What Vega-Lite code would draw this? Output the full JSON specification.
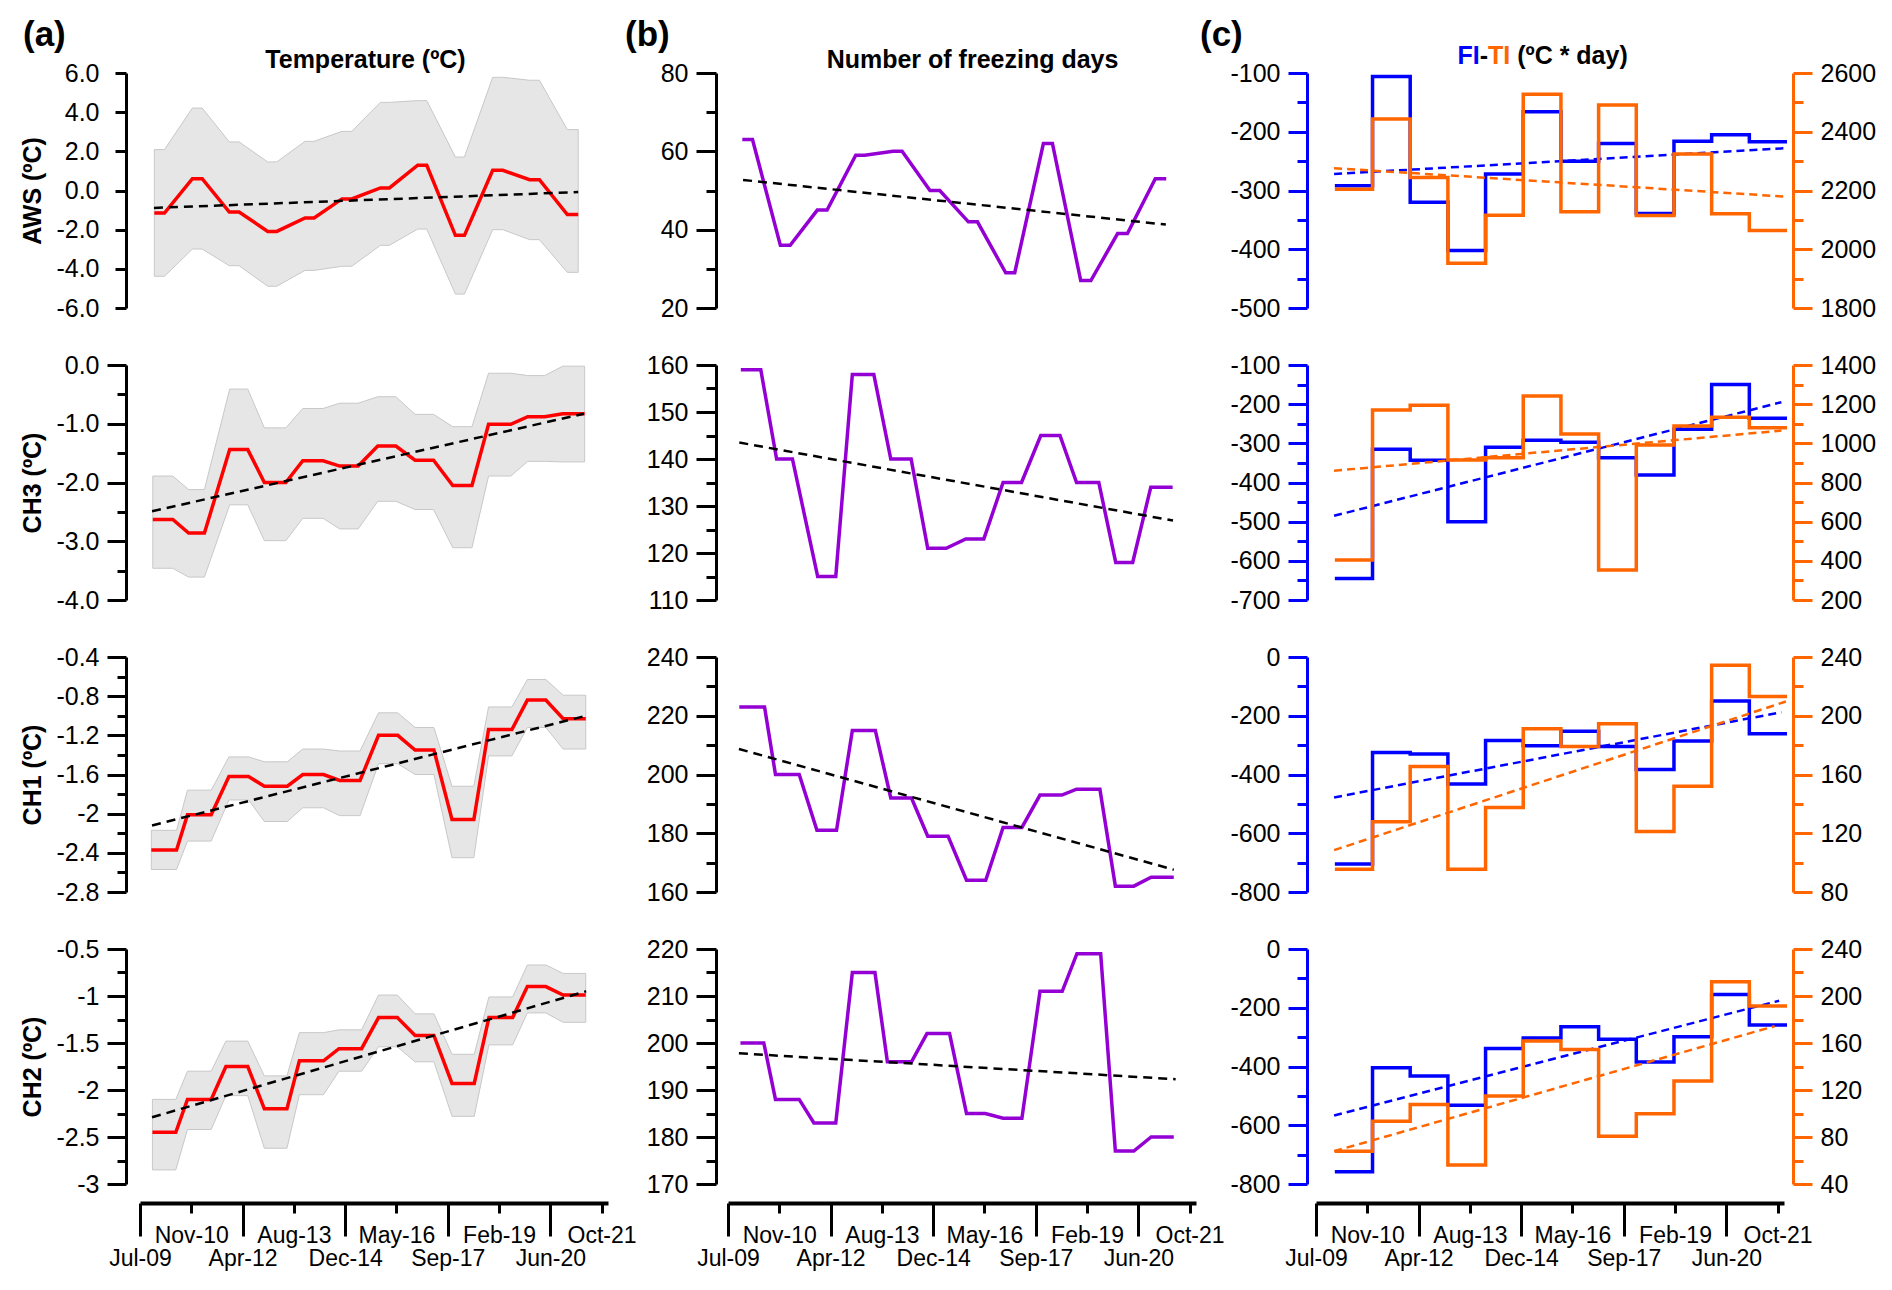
{
"$schema":"https://vega.github.io/schema/vega-lite/v6.json",
"padding":{"left":20,"top":18,"right":10,"bottom":10},
"background":"white",
"config":{"view":{"stroke":null},
 "axis":{"domainColor":"#000","domainWidth":3,"tickColor":"#000","tickWidth":3,"tickSize":19,"tickCount":100,"labelFont":"Liberation Sans","labelFontSize":25,"labelColor":"#000","labelPadding":8,"titleFont":"Liberation Sans","titleFontSize":25,"titleFontWeight":"bold","titleColor":"#000","titlePadding":10,"grid":false,"labelOverlap":false,"labelBound":false,"labelFlush":false},
 "title":{"font":"Liberation Sans","fontSize":35,"fontWeight":"bold","color":"#000","anchor":"start","frame":"group","offset":0}},
"datasets":{
"ann":[
{"s":"AWS","t":2009.88,"m":-1.15,"lo":-4.38,"hi":2.09,"fd":63},{"s":"AWS","t":2010.15,"m":-1.15,"lo":-4.38,"hi":2.09,"fd":63},
{"s":"AWS","t":2010.89,"m":0.6,"lo":-2.99,"hi":4.21,"fd":36},{"s":"AWS","t":2011.15,"m":0.6,"lo":-2.99,"hi":4.21,"fd":36},
{"s":"AWS","t":2011.87,"m":-1.1,"lo":-3.84,"hi":2.48,"fd":45},{"s":"AWS","t":2012.13,"m":-1.1,"lo":-3.84,"hi":2.48,"fd":45},
{"s":"AWS","t":2012.89,"m":-2.09,"lo":-4.89,"hi":1.46,"fd":59},{"s":"AWS","t":2013.13,"m":-2.09,"lo":-4.89,"hi":1.46,"fd":59},
{"s":"AWS","t":2013.88,"m":-1.4,"lo":-4.08,"hi":2.51,"fd":60},{"s":"AWS","t":2014.12,"m":-1.4,"lo":-4.08,"hi":2.51,"fd":60},
{"s":"AWS","t":2014.86,"m":-0.43,"lo":-3.87,"hi":3.02,"fd":50},{"s":"AWS","t":2015.12,"m":-0.43,"lo":-3.87,"hi":3.02,"fd":50},
{"s":"AWS","t":2015.88,"m":0.13,"lo":-2.8,"hi":4.5,"fd":42},{"s":"AWS","t":2016.12,"m":0.13,"lo":-2.8,"hi":4.5,"fd":42},
{"s":"AWS","t":2016.87,"m":1.29,"lo":-1.97,"hi":4.59,"fd":29},{"s":"AWS","t":2017.11,"m":1.29,"lo":-1.97,"hi":4.59,"fd":29},
{"s":"AWS","t":2017.87,"m":-2.29,"lo":-5.29,"hi":1.71,"fd":62},{"s":"AWS","t":2018.11,"m":-2.29,"lo":-5.29,"hi":1.71,"fd":62},
{"s":"AWS","t":2018.86,"m":1.03,"lo":-2.0,"hi":5.78,"fd":27},{"s":"AWS","t":2019.13,"m":1.03,"lo":-2.0,"hi":5.78,"fd":27},
{"s":"AWS","t":2019.84,"m":0.55,"lo":-2.51,"hi":5.63,"fd":39},{"s":"AWS","t":2020.1,"m":0.55,"lo":-2.51,"hi":5.63,"fd":39},
{"s":"AWS","t":2020.84,"m":-1.23,"lo":-4.18,"hi":3.11,"fd":53},{"s":"AWS","t":2021.13,"m":-1.23,"lo":-4.18,"hi":3.11,"fd":53},
{"s":"CH3","t":2009.84,"m":-2.63,"lo":-3.46,"hi":-1.89,"fd":159},{"s":"CH3","t":2010.37,"m":-2.63,"lo":-3.46,"hi":-1.89,"fd":159},
{"s":"CH3","t":2010.79,"m":-2.86,"lo":-3.61,"hi":-2.12,"fd":140},{"s":"CH3","t":2011.21,"m":-2.86,"lo":-3.61,"hi":-2.12,"fd":140},
{"s":"CH3","t":2011.88,"m":-1.44,"lo":-2.38,"hi":-0.41,"fd":115},{"s":"CH3","t":2012.36,"m":-1.44,"lo":-2.38,"hi":-0.41,"fd":115},
{"s":"CH3","t":2012.8,"m":-2.0,"lo":-2.99,"hi":-1.07,"fd":158},{"s":"CH3","t":2013.37,"m":-2.0,"lo":-2.99,"hi":-1.07,"fd":158},
{"s":"CH3","t":2013.82,"m":-1.63,"lo":-2.61,"hi":-0.74,"fd":140},{"s":"CH3","t":2014.36,"m":-1.63,"lo":-2.61,"hi":-0.74,"fd":140},
{"s":"CH3","t":2014.8,"m":-1.72,"lo":-2.79,"hi":-0.65,"fd":121},{"s":"CH3","t":2015.29,"m":-1.72,"lo":-2.79,"hi":-0.65,"fd":121},
{"s":"CH3","t":2015.81,"m":-1.38,"lo":-2.32,"hi":-0.54,"fd":123},{"s":"CH3","t":2016.29,"m":-1.38,"lo":-2.32,"hi":-0.54,"fd":123},
{"s":"CH3","t":2016.8,"m":-1.62,"lo":-2.46,"hi":-0.84,"fd":135},{"s":"CH3","t":2017.29,"m":-1.62,"lo":-2.46,"hi":-0.84,"fd":135},
{"s":"CH3","t":2017.8,"m":-2.05,"lo":-3.11,"hi":-1.05,"fd":145},{"s":"CH3","t":2018.31,"m":-2.05,"lo":-3.11,"hi":-1.05,"fd":145},
{"s":"CH3","t":2018.75,"m":-1.01,"lo":-1.89,"hi":-0.14,"fd":135},{"s":"CH3","t":2019.34,"m":-1.01,"lo":-1.89,"hi":-0.14,"fd":135},
{"s":"CH3","t":2019.79,"m":-0.88,"lo":-1.64,"hi":-0.18,"fd":118},{"s":"CH3","t":2020.24,"m":-0.88,"lo":-1.64,"hi":-0.18,"fd":118},
{"s":"CH3","t":2020.72,"m":-0.83,"lo":-1.65,"hi":-0.02,"fd":134},{"s":"CH3","t":2021.3,"m":-0.83,"lo":-1.65,"hi":-0.02,"fd":134},
{"s":"CH1","t":2009.8,"m":-2.37,"lo":-2.57,"hi":-2.17,"fd":223},{"s":"CH1","t":2010.47,"m":-2.37,"lo":-2.57,"hi":-2.17,"fd":223},
{"s":"CH1","t":2010.76,"m":-2.01,"lo":-2.28,"hi":-1.76,"fd":200},{"s":"CH1","t":2011.39,"m":-2.01,"lo":-2.28,"hi":-1.76,"fd":200},
{"s":"CH1","t":2011.86,"m":-1.62,"lo":-1.86,"hi":-1.42,"fd":181},{"s":"CH1","t":2012.38,"m":-1.62,"lo":-1.86,"hi":-1.42,"fd":181},
{"s":"CH1","t":2012.8,"m":-1.72,"lo":-2.08,"hi":-1.47,"fd":215},{"s":"CH1","t":2013.41,"m":-1.72,"lo":-2.08,"hi":-1.47,"fd":215},
{"s":"CH1","t":2013.82,"m":-1.6,"lo":-1.94,"hi":-1.34,"fd":192},{"s":"CH1","t":2014.37,"m":-1.6,"lo":-1.94,"hi":-1.34,"fd":192},
{"s":"CH1","t":2014.8,"m":-1.66,"lo":-2.02,"hi":-1.36,"fd":179},{"s":"CH1","t":2015.34,"m":-1.66,"lo":-2.02,"hi":-1.36,"fd":179},
{"s":"CH1","t":2015.83,"m":-1.2,"lo":-1.49,"hi":-0.97,"fd":164},{"s":"CH1","t":2016.34,"m":-1.2,"lo":-1.49,"hi":-0.97,"fd":164},
{"s":"CH1","t":2016.8,"m":-1.35,"lo":-1.6,"hi":-1.12,"fd":182},{"s":"CH1","t":2017.3,"m":-1.35,"lo":-1.6,"hi":-1.12,"fd":182},
{"s":"CH1","t":2017.78,"m":-2.06,"lo":-2.45,"hi":-1.72,"fd":193},{"s":"CH1","t":2018.36,"m":-2.06,"lo":-2.45,"hi":-1.72,"fd":193},
{"s":"CH1","t":2018.75,"m":-1.14,"lo":-1.41,"hi":-0.91,"fd":195},{"s":"CH1","t":2019.37,"m":-1.14,"lo":-1.41,"hi":-0.91,"fd":195},
{"s":"CH1","t":2019.78,"m":-0.84,"lo":-1.12,"hi":-0.63,"fd":162},{"s":"CH1","t":2020.27,"m":-0.84,"lo":-1.12,"hi":-0.63,"fd":162},
{"s":"CH1","t":2020.73,"m":-1.03,"lo":-1.34,"hi":-0.79,"fd":165},{"s":"CH1","t":2021.33,"m":-1.03,"lo":-1.34,"hi":-0.79,"fd":165},
{"s":"CH2","t":2009.83,"m":-2.45,"lo":-2.85,"hi":-2.1,"fd":200},{"s":"CH2","t":2010.45,"m":-2.45,"lo":-2.85,"hi":-2.1,"fd":200},
{"s":"CH2","t":2010.76,"m":-2.1,"lo":-2.42,"hi":-1.8,"fd":188},{"s":"CH2","t":2011.39,"m":-2.1,"lo":-2.42,"hi":-1.8,"fd":188},
{"s":"CH2","t":2011.78,"m":-1.75,"lo":-2.06,"hi":-1.48,"fd":183},{"s":"CH2","t":2012.36,"m":-1.75,"lo":-2.06,"hi":-1.48,"fd":183},
{"s":"CH2","t":2012.8,"m":-2.2,"lo":-2.62,"hi":-1.85,"fd":215},{"s":"CH2","t":2013.4,"m":-2.2,"lo":-2.62,"hi":-1.85,"fd":215},
{"s":"CH2","t":2013.73,"m":-1.69,"lo":-2.05,"hi":-1.39,"fd":196},{"s":"CH2","t":2014.37,"m":-1.69,"lo":-2.05,"hi":-1.39,"fd":196},
{"s":"CH2","t":2014.78,"m":-1.56,"lo":-1.8,"hi":-1.36,"fd":202},{"s":"CH2","t":2015.38,"m":-1.56,"lo":-1.8,"hi":-1.36,"fd":202},
{"s":"CH2","t":2015.83,"m":-1.23,"lo":-1.54,"hi":-0.99,"fd":185},{"s":"CH2","t":2016.33,"m":-1.23,"lo":-1.54,"hi":-0.99,"fd":185},
{"s":"CH2","t":2016.8,"m":-1.42,"lo":-1.7,"hi":-1.19,"fd":184},{"s":"CH2","t":2017.3,"m":-1.42,"lo":-1.7,"hi":-1.19,"fd":184},
{"s":"CH2","t":2017.78,"m":-1.93,"lo":-2.28,"hi":-1.62,"fd":211},{"s":"CH2","t":2018.37,"m":-1.93,"lo":-2.28,"hi":-1.62,"fd":211},
{"s":"CH2","t":2018.76,"m":-1.23,"lo":-1.52,"hi":-1.01,"fd":219},{"s":"CH2","t":2019.39,"m":-1.23,"lo":-1.52,"hi":-1.01,"fd":219},
{"s":"CH2","t":2019.78,"m":-0.9,"lo":-1.18,"hi":-0.67,"fd":177},{"s":"CH2","t":2020.27,"m":-0.9,"lo":-1.18,"hi":-0.67,"fd":177},
{"s":"CH2","t":2020.73,"m":-0.99,"lo":-1.28,"hi":-0.76,"fd":180},{"s":"CH2","t":2021.33,"m":-0.99,"lo":-1.28,"hi":-0.76,"fd":180}
],
"fiti":[
{"s":"AWS","t":2010,"FI":-292,"TI":2204},{"s":"AWS","t":2011,"FI":-106,"TI":2443},{"s":"AWS","t":2012,"FI":-320,"TI":2244},{"s":"AWS","t":2013,"FI":-402,"TI":1952},{"s":"AWS","t":2014,"FI":-272,"TI":2116},{"s":"AWS","t":2015,"FI":-166,"TI":2528},{"s":"AWS","t":2016,"FI":-250,"TI":2128},{"s":"AWS","t":2017,"FI":-220,"TI":2491},{"s":"AWS","t":2018,"FI":-339,"TI":2115},{"s":"AWS","t":2019,"FI":-216,"TI":2324},{"s":"AWS","t":2020,"FI":-205,"TI":2121},{"s":"AWS","t":2021,"FI":-217,"TI":2064},{"s":"AWS","t":2022,"FI":-217,"TI":2064},
{"s":"CH3","t":2010,"FI":-645,"TI":404},{"s":"CH3","t":2011,"FI":-315,"TI":1170},{"s":"CH3","t":2012,"FI":-343,"TI":1194},{"s":"CH3","t":2013,"FI":-500,"TI":915},{"s":"CH3","t":2014,"FI":-310,"TI":927},{"s":"CH3","t":2015,"FI":-292,"TI":1242},{"s":"CH3","t":2016,"FI":-297,"TI":1048},{"s":"CH3","t":2017,"FI":-337,"TI":353},{"s":"CH3","t":2018,"FI":-381,"TI":991},{"s":"CH3","t":2019,"FI":-264,"TI":1088},{"s":"CH3","t":2020,"FI":-150,"TI":1133},{"s":"CH3","t":2021,"FI":-236,"TI":1080},{"s":"CH3","t":2022,"FI":-236,"TI":1080},
{"s":"CH1","t":2010,"FI":-705,"TI":95.5},{"s":"CH1","t":2011,"FI":-325,"TI":127.8},{"s":"CH1","t":2012,"FI":-330,"TI":165.4},{"s":"CH1","t":2013,"FI":-432,"TI":95.5},{"s":"CH1","t":2014,"FI":-284,"TI":137.6},{"s":"CH1","t":2015,"FI":-302,"TI":191.1},{"s":"CH1","t":2016,"FI":-253,"TI":179},{"s":"CH1","t":2017,"FI":-305,"TI":194.5},{"s":"CH1","t":2018,"FI":-383,"TI":121.2},{"s":"CH1","t":2019,"FI":-286,"TI":152},{"s":"CH1","t":2020,"FI":-150,"TI":234.3},{"s":"CH1","t":2021,"FI":-261,"TI":213.1},{"s":"CH1","t":2022,"FI":-261,"TI":213.1},
{"s":"CH2","t":2010,"FI":-758,"TI":67.9},{"s":"CH2","t":2011,"FI":-404,"TI":93.5},{"s":"CH2","t":2012,"FI":-432,"TI":107.7},{"s":"CH2","t":2013,"FI":-532,"TI":56.2},{"s":"CH2","t":2014,"FI":-339,"TI":114.8},{"s":"CH2","t":2015,"FI":-303,"TI":161.8},{"s":"CH2","t":2016,"FI":-265,"TI":154.4},{"s":"CH2","t":2017,"FI":-307,"TI":80.7},{"s":"CH2","t":2018,"FI":-385,"TI":99.7},{"s":"CH2","t":2019,"FI":-299,"TI":127.6},{"s":"CH2","t":2020,"FI":-155,"TI":212.1},{"s":"CH2","t":2021,"FI":-259,"TI":191.4},{"s":"CH2","t":2022,"FI":-259,"TI":191.4}
],
"trend":[
{"s":"AWS","k":"T","t":2009.87,"v":-0.89},{"s":"AWS","k":"T","t":2021.13,"v":-0.08},
{"s":"CH3","k":"T","t":2009.82,"v":-2.49},{"s":"CH3","k":"T","t":2021.28,"v":-0.83},
{"s":"CH1","k":"T","t":2009.82,"v":-2.12},{"s":"CH1","k":"T","t":2021.34,"v":-1.0},
{"s":"CH2","k":"T","t":2009.82,"v":-2.29},{"s":"CH2","k":"T","t":2021.34,"v":-0.95},
{"s":"AWS","k":"D","t":2009.9,"v":52.7},{"s":"AWS","k":"D","t":2021.12,"v":41.3},
{"s":"CH3","k":"D","t":2009.8,"v":143.5},{"s":"CH3","k":"D","t":2021.31,"v":126.9},
{"s":"CH1","k":"D","t":2009.79,"v":208.7},{"s":"CH1","k":"D","t":2021.33,"v":167.6},
{"s":"CH2","k":"D","t":2009.79,"v":197.8},{"s":"CH2","k":"D","t":2021.38,"v":192.3},
{"s":"AWS","k":"FI","t":2009.98,"v":-272},{"s":"AWS","k":"FI","t":2021.97,"v":-228},
{"s":"AWS","k":"TI","t":2009.98,"v":2276},{"s":"AWS","k":"TI","t":2021.97,"v":2179},
{"s":"CH3","k":"FI","t":2009.98,"v":-485},{"s":"CH3","k":"FI","t":2021.85,"v":-195},
{"s":"CH3","k":"TI","t":2009.98,"v":860},{"s":"CH3","k":"TI","t":2021.85,"v":1065},
{"s":"CH1","k":"FI","t":2009.98,"v":-478},{"s":"CH1","k":"FI","t":2021.85,"v":-188},
{"s":"CH1","k":"TI","t":2009.98,"v":108.5},{"s":"CH1","k":"TI","t":2021.97,"v":209.7},
{"s":"CH2","k":"FI","t":2009.98,"v":-567},{"s":"CH2","k":"FI","t":2021.79,"v":-176},
{"s":"CH2","k":"TI","t":2009.98,"v":67.9},{"s":"CH2","k":"TI","t":2021.67,"v":174.3}
]
},
"columns":3,
"bounds":"flush",
"spacing":{"row":57,"column":120},
"concat":[
{"width":468,"height":235,
 "title":{"text":"(a)","dx":-117,"dy":10},
 "encoding":{"x":{"field":"t","type":"quantitative","scale":{"domain":[2009.5,2021.92],"nice":false,"zero":false},"axis":{"orient":"top","domain":false,"ticks":false,"labels":false,"title":"Temperature (ºC)","titleX":225,"titleY":-6,"titleAlign":"center","titleBaseline":"alphabetic","titleAngle":0}}},
 "layer":[
  {"data":{"name":"ann"},"transform":[{"filter":"datum.s=='AWS'"}],"mark":{"type":"area","fill":"#e6e6e6","stroke":"#c8c8c8","strokeWidth":1},"encoding":{"y":{"field":"lo","type":"quantitative","title":"AWS (ºC)","scale":{"domain":[-6,6],"nice":false,"zero":false},"axis":{"offset":14,"tickCount":100,"values":[-6,-4,-2,0,2,4,6],"tickSize":11,"labelPadding":16,"labelExpr":"(datum.value<0?'-':'')+format(abs(datum.value),'.1f')"}},"y2":{"field":"hi"}}},
  {"data":{"name":"ann"},"transform":[{"filter":"datum.s=='AWS'"}],"mark":{"type":"line","color":"#ff0000","strokeWidth":3.5},"encoding":{"y":{"field":"m","type":"quantitative","title":"AWS (ºC)"}}},
  {"data":{"name":"trend"},"transform":[{"filter":"datum.s=='AWS' && datum.k=='T'"}],"mark":{"type":"line","color":"#000","strokeWidth":2.5,"strokeDash":[9,6]},"encoding":{"y":{"field":"v","type":"quantitative","title":"AWS (ºC)"}}}
 ]},
{"width":468,"height":235,
 "title":{"text":"(b)","dx":-103,"dy":10},
 "encoding":{"x":{"field":"t","type":"quantitative","scale":{"domain":[2009.5,2021.92],"nice":false,"zero":false},"axis":{"orient":"top","domain":false,"ticks":false,"labels":false,"title":"Number of freezing days","titleX":244,"titleY":-6,"titleAlign":"center","titleBaseline":"alphabetic","titleAngle":0}}},
 "layer":[
  {"data":{"name":"ann"},"transform":[{"filter":"datum.s=='AWS'"}],"mark":{"type":"line","color":"#9400d3","strokeWidth":3.5},"encoding":{"y":{"field":"fd","type":"quantitative","title":null,"scale":{"domain":[20,80],"nice":false,"zero":false},"axis":{"offset":12,"tickCount":100,"values":[20,30,40,50,60,70,80],"tickSize":{"condition":{"test":"datum.value%20!=0","value":10},"value":20},"labelExpr":"datum.value%20!=0?'':''+datum.value"}}}},
  {"data":{"name":"trend"},"transform":[{"filter":"datum.s=='AWS' && datum.k=='D'"}],"mark":{"type":"line","color":"#000","strokeWidth":2.5,"strokeDash":[9,6]},"encoding":{"y":{"field":"v","type":"quantitative","title":null}}}
 ]},
{"width":468,"height":235,
 "title":{"text":"(c)","dx":-116,"dy":14},
 "encoding":{"x":{"field":"t","type":"quantitative","scale":{"domain":[2009.5,2021.92],"nice":false,"zero":false},"axis":null}},
 "layer":[
  {"data":{"name":"fiti"},"transform":[{"filter":"datum.s=='AWS'"}],"mark":{"type":"line","interpolate":"step-after","color":"#0000ff","strokeWidth":3.5},"encoding":{"y":{"field":"FI","type":"quantitative","title":"FI","scale":{"domain":[-500,-100],"nice":false,"zero":false},"axis":{"orient":"left","offset":9,"tickCount":100,"values":[-500,-450,-400,-350,-300,-250,-200,-150,-100],"domainColor":"#0000ff","tickColor":"#0000ff","tickSize":{"condition":{"test":"datum.value%100!=0","value":10},"value":19},"labelExpr":"datum.value%100!=0?'':(datum.value<0?'-':'')+abs(datum.value)","titleColor":"#0000ff","titleAngle":0,"titleAlign":"left","titleBaseline":"alphabetic","titleX":150,"titleY":-10}}}},
  {"data":{"name":"trend"},"transform":[{"filter":"datum.s=='AWS' && datum.k=='FI'"}],"mark":{"type":"line","color":"#0000ff","strokeWidth":2.5,"strokeDash":[8,5]},"encoding":{"y":{"field":"v","type":"quantitative","title":"-","scale":{"domain":[-500,-100],"nice":false,"zero":false},"axis":{"orient":"left","offset":0,"domain":false,"ticks":false,"labels":false,"titleAngle":0,"titleAlign":"left","titleBaseline":"alphabetic","titleX":163.2,"titleY":-10}}}},
  {"data":{"name":"fiti"},"transform":[{"filter":"datum.s=='AWS'"}],"mark":{"type":"line","interpolate":"step-after","color":"#ff6600","strokeWidth":3.5},"encoding":{"y":{"field":"TI","type":"quantitative","title":"TI","scale":{"domain":[1800,2600],"nice":false,"zero":false},"axis":{"orient":"right","offset":9,"tickCount":100,"values":[1800,1900,2000,2100,2200,2300,2400,2500,2600],"domainColor":"#ff6600","tickColor":"#ff6600","tickSize":{"condition":{"test":"datum.value%200!=0","value":10},"value":19},"labelExpr":"datum.value%200!=0?'':''+datum.value","titleColor":"#ff6600","titleAngle":0,"titleAlign":"left","titleBaseline":"alphabetic","titleX":-305.45,"titleY":-10}}}},
  {"data":{"name":"trend"},"transform":[{"filter":"datum.s=='AWS' && datum.k=='TI'"}],"mark":{"type":"line","color":"#ff6600","strokeWidth":2.5,"strokeDash":[8,5]},"encoding":{"y":{"field":"v","type":"quantitative","title":"(ºC * day)","scale":{"domain":[1800,2600],"nice":false,"zero":false},"axis":{"orient":"right","offset":0,"domain":false,"ticks":false,"labels":false,"titleAngle":0,"titleAlign":"left","titleBaseline":"alphabetic","titleX":-267.3,"titleY":-10}}}}
 ],
 "resolve":{"scale":{"y":"independent"}}},

{"width":468,"height":235,
 "encoding":{"x":{"field":"t","type":"quantitative","scale":{"domain":[2009.5,2021.92],"nice":false,"zero":false},"axis":null}},
 "layer":[
  {"data":{"name":"ann"},"transform":[{"filter":"datum.s=='CH3'"}],"mark":{"type":"area","fill":"#e6e6e6","stroke":"#c8c8c8","strokeWidth":1},"encoding":{"y":{"field":"lo","type":"quantitative","title":"CH3 (ºC)","scale":{"domain":[-4,0],"nice":false,"zero":false},"axis":{"offset":14,"tickCount":100,"values":[-4,-3.5,-3,-2.5,-2,-1.5,-1,-0.5,0],"tickSize":{"condition":{"test":"abs(datum.value-round(datum.value))>0.01","value":9},"value":19},"labelExpr":"abs(datum.value-round(datum.value))>0.01?'':(datum.value<0?'-':'')+format(abs(datum.value),'.1f')"}},"y2":{"field":"hi"}}},
  {"data":{"name":"ann"},"transform":[{"filter":"datum.s=='CH3'"}],"mark":{"type":"line","color":"#ff0000","strokeWidth":3.5},"encoding":{"y":{"field":"m","type":"quantitative","title":"CH3 (ºC)"}}},
  {"data":{"name":"trend"},"transform":[{"filter":"datum.s=='CH3' && datum.k=='T'"}],"mark":{"type":"line","color":"#000","strokeWidth":2.5,"strokeDash":[9,6]},"encoding":{"y":{"field":"v","type":"quantitative","title":"CH3 (ºC)"}}}
 ]},
{"width":468,"height":235,
 "encoding":{"x":{"field":"t","type":"quantitative","scale":{"domain":[2009.5,2021.92],"nice":false,"zero":false},"axis":null}},
 "layer":[
  {"data":{"name":"ann"},"transform":[{"filter":"datum.s=='CH3'"}],"mark":{"type":"line","color":"#9400d3","strokeWidth":3.5},"encoding":{"y":{"field":"fd","type":"quantitative","title":null,"scale":{"domain":[110,160],"nice":false,"zero":false},"axis":{"offset":12,"tickCount":100,"values":[110,115,120,125,130,135,140,145,150,155,160],"tickSize":{"condition":{"test":"datum.value%10!=0","value":10},"value":20},"labelExpr":"datum.value%10!=0?'':''+datum.value"}}}},
  {"data":{"name":"trend"},"transform":[{"filter":"datum.s=='CH3' && datum.k=='D'"}],"mark":{"type":"line","color":"#000","strokeWidth":2.5,"strokeDash":[9,6]},"encoding":{"y":{"field":"v","type":"quantitative","title":null}}}
 ]},
{"width":468,"height":235,
 "encoding":{"x":{"field":"t","type":"quantitative","scale":{"domain":[2009.5,2021.92],"nice":false,"zero":false},"axis":null}},
 "layer":[
  {"layer":[
   {"data":{"name":"fiti"},"transform":[{"filter":"datum.s=='CH3'"}],"mark":{"type":"line","interpolate":"step-after","color":"#0000ff","strokeWidth":3.5},"encoding":{"y":{"field":"FI","type":"quantitative","title":null,"scale":{"domain":[-700,-100],"nice":false,"zero":false},"axis":{"orient":"left","offset":9,"tickCount":100,"values":[-700,-650,-600,-550,-500,-450,-400,-350,-300,-250,-200,-150,-100],"domainColor":"#0000ff","tickColor":"#0000ff","tickSize":{"condition":{"test":"datum.value%100!=0","value":10},"value":19},"labelExpr":"datum.value%100!=0?'':(datum.value<0?'-':'')+abs(datum.value)"}}}},
   {"data":{"name":"trend"},"transform":[{"filter":"datum.s=='CH3' && datum.k=='FI'"}],"mark":{"type":"line","color":"#0000ff","strokeWidth":2.5,"strokeDash":[8,5]},"encoding":{"y":{"field":"v","type":"quantitative","title":null}}}
  ]},
  {"layer":[
   {"data":{"name":"fiti"},"transform":[{"filter":"datum.s=='CH3'"}],"mark":{"type":"line","interpolate":"step-after","color":"#ff6600","strokeWidth":3.5},"encoding":{"y":{"field":"TI","type":"quantitative","title":null,"scale":{"domain":[200,1400],"nice":false,"zero":false},"axis":{"orient":"right","offset":9,"tickCount":100,"values":[200,300,400,500,600,700,800,900,1000,1100,1200,1300,1400],"domainColor":"#ff6600","tickColor":"#ff6600","tickSize":{"condition":{"test":"datum.value%200!=0","value":10},"value":19},"labelExpr":"datum.value%200!=0?'':''+datum.value"}}}},
   {"data":{"name":"trend"},"transform":[{"filter":"datum.s=='CH3' && datum.k=='TI'"}],"mark":{"type":"line","color":"#ff6600","strokeWidth":2.5,"strokeDash":[8,5]},"encoding":{"y":{"field":"v","type":"quantitative","title":null}}}
  ]}
 ],
 "resolve":{"scale":{"y":"independent"}}},

{"width":468,"height":235,
 "encoding":{"x":{"field":"t","type":"quantitative","scale":{"domain":[2009.5,2021.92],"nice":false,"zero":false},"axis":null}},
 "layer":[
  {"data":{"name":"ann"},"transform":[{"filter":"datum.s=='CH1'"}],"mark":{"type":"area","fill":"#e6e6e6","stroke":"#c8c8c8","strokeWidth":1},"encoding":{"y":{"field":"lo","type":"quantitative","title":"CH1 (ºC)","scale":{"domain":[-2.8,-0.4],"nice":false,"zero":false},"axis":{"offset":14,"tickCount":100,"values":[-2.8,-2.6,-2.4,-2.2,-2,-1.8,-1.6,-1.4,-1.2,-1,-0.8,-0.6,-0.4],"tickSize":{"condition":{"test":"abs(datum.value/0.4-round(datum.value/0.4))>0.01","value":9},"value":19},"labelExpr":"abs(datum.value/0.4-round(datum.value/0.4))>0.01?'':'-'+format(abs(datum.value),'~g')"}},"y2":{"field":"hi"}}},
  {"data":{"name":"ann"},"transform":[{"filter":"datum.s=='CH1'"}],"mark":{"type":"line","color":"#ff0000","strokeWidth":3.5},"encoding":{"y":{"field":"m","type":"quantitative","title":"CH1 (ºC)"}}},
  {"data":{"name":"trend"},"transform":[{"filter":"datum.s=='CH1' && datum.k=='T'"}],"mark":{"type":"line","color":"#000","strokeWidth":2.5,"strokeDash":[9,6]},"encoding":{"y":{"field":"v","type":"quantitative","title":"CH1 (ºC)"}}}
 ]},
{"width":468,"height":235,
 "encoding":{"x":{"field":"t","type":"quantitative","scale":{"domain":[2009.5,2021.92],"nice":false,"zero":false},"axis":null}},
 "layer":[
  {"data":{"name":"ann"},"transform":[{"filter":"datum.s=='CH1'"}],"mark":{"type":"line","color":"#9400d3","strokeWidth":3.5},"encoding":{"y":{"field":"fd","type":"quantitative","title":null,"scale":{"domain":[160,240],"nice":false,"zero":false},"axis":{"offset":12,"tickCount":100,"values":[160,170,180,190,200,210,220,230,240],"tickSize":{"condition":{"test":"datum.value%20!=0","value":10},"value":20},"labelExpr":"datum.value%20!=0?'':''+datum.value"}}}},
  {"data":{"name":"trend"},"transform":[{"filter":"datum.s=='CH1' && datum.k=='D'"}],"mark":{"type":"line","color":"#000","strokeWidth":2.5,"strokeDash":[9,6]},"encoding":{"y":{"field":"v","type":"quantitative","title":null}}}
 ]},
{"width":468,"height":235,
 "encoding":{"x":{"field":"t","type":"quantitative","scale":{"domain":[2009.5,2021.92],"nice":false,"zero":false},"axis":null}},
 "layer":[
  {"layer":[
   {"data":{"name":"fiti"},"transform":[{"filter":"datum.s=='CH1'"}],"mark":{"type":"line","interpolate":"step-after","color":"#0000ff","strokeWidth":3.5},"encoding":{"y":{"field":"FI","type":"quantitative","title":null,"scale":{"domain":[-800,0],"nice":false,"zero":false},"axis":{"orient":"left","offset":9,"tickCount":100,"values":[-800,-700,-600,-500,-400,-300,-200,-100,0],"domainColor":"#0000ff","tickColor":"#0000ff","tickSize":{"condition":{"test":"datum.value%200!=0","value":10},"value":19},"labelExpr":"datum.value%200!=0?'':(datum.value<0?'-':'')+abs(datum.value)"}}}},
   {"data":{"name":"trend"},"transform":[{"filter":"datum.s=='CH1' && datum.k=='FI'"}],"mark":{"type":"line","color":"#0000ff","strokeWidth":2.5,"strokeDash":[8,5]},"encoding":{"y":{"field":"v","type":"quantitative","title":null}}}
  ]},
  {"layer":[
   {"data":{"name":"fiti"},"transform":[{"filter":"datum.s=='CH1'"}],"mark":{"type":"line","interpolate":"step-after","color":"#ff6600","strokeWidth":3.5},"encoding":{"y":{"field":"TI","type":"quantitative","title":null,"scale":{"domain":[80,240],"nice":false,"zero":false},"axis":{"orient":"right","offset":9,"tickCount":100,"values":[80,100,120,140,160,180,200,220,240],"domainColor":"#ff6600","tickColor":"#ff6600","tickSize":{"condition":{"test":"datum.value%40!=0","value":10},"value":19},"labelExpr":"datum.value%40!=0?'':''+datum.value"}}}},
   {"data":{"name":"trend"},"transform":[{"filter":"datum.s=='CH1' && datum.k=='TI'"}],"mark":{"type":"line","color":"#ff6600","strokeWidth":2.5,"strokeDash":[8,5]},"encoding":{"y":{"field":"v","type":"quantitative","title":null}}}
  ]}
 ],
 "resolve":{"scale":{"y":"independent"}}},

{"width":468,"height":235,
 "encoding":{"x":{"field":"t","type":"quantitative","scale":{"domain":[2009.5,2021.92],"nice":false,"zero":false},"axis":{"orient":"bottom","offset":19,"tickCount":100,"values":[2009.5,2010.86111,2012.22222,2013.58333,2014.94444,2016.30556,2017.66667,2019.02778,2020.38889,2021.75],"domainWidth":4,"tickWidth":3,"tickSize":{"condition":{"test":"round((datum.value-2009.5)/1.36111)%2==0","value":33},"value":10},"labelExpr":"['Jul-09','Nov-10','Apr-12','Aug-13','Dec-14','May-16','Sep-17','Feb-19','Jun-20','Oct-21'][round((datum.value-2009.5)/1.36111)]","labelFontSize":23,"labelPadding":11,"labelBaseline":"top","title":null}}},
 "layer":[
  {"data":{"name":"ann"},"transform":[{"filter":"datum.s=='CH2'"}],"mark":{"type":"area","fill":"#e6e6e6","stroke":"#c8c8c8","strokeWidth":1},"encoding":{"y":{"field":"lo","type":"quantitative","title":"CH2 (ºC)","scale":{"domain":[-3,-0.5],"nice":false,"zero":false},"axis":{"offset":14,"tickCount":100,"values":[-3,-2.75,-2.5,-2.25,-2,-1.75,-1.5,-1.25,-1,-0.75,-0.5],"tickSize":{"condition":{"test":"abs(datum.value/0.5-round(datum.value/0.5))>0.01","value":9},"value":19},"labelExpr":"abs(datum.value/0.5-round(datum.value/0.5))>0.01?'':'-'+format(abs(datum.value),'~g')"}},"y2":{"field":"hi"}}},
  {"data":{"name":"ann"},"transform":[{"filter":"datum.s=='CH2'"}],"mark":{"type":"line","color":"#ff0000","strokeWidth":3.5},"encoding":{"y":{"field":"m","type":"quantitative","title":"CH2 (ºC)"}}},
  {"data":{"name":"trend"},"transform":[{"filter":"datum.s=='CH2' && datum.k=='T'"}],"mark":{"type":"line","color":"#000","strokeWidth":2.5,"strokeDash":[9,6]},"encoding":{"y":{"field":"v","type":"quantitative","title":"CH2 (ºC)"}}}
 ]},
{"width":468,"height":235,
 "encoding":{"x":{"field":"t","type":"quantitative","scale":{"domain":[2009.5,2021.92],"nice":false,"zero":false},"axis":{"orient":"bottom","offset":19,"tickCount":100,"values":[2009.5,2010.86111,2012.22222,2013.58333,2014.94444,2016.30556,2017.66667,2019.02778,2020.38889,2021.75],"domainWidth":4,"tickWidth":3,"tickSize":{"condition":{"test":"round((datum.value-2009.5)/1.36111)%2==0","value":33},"value":10},"labelExpr":"['Jul-09','Nov-10','Apr-12','Aug-13','Dec-14','May-16','Sep-17','Feb-19','Jun-20','Oct-21'][round((datum.value-2009.5)/1.36111)]","labelFontSize":23,"labelPadding":11,"labelBaseline":"top","title":null}}},
 "layer":[
  {"data":{"name":"ann"},"transform":[{"filter":"datum.s=='CH2'"}],"mark":{"type":"line","color":"#9400d3","strokeWidth":3.5},"encoding":{"y":{"field":"fd","type":"quantitative","title":null,"scale":{"domain":[170,220],"nice":false,"zero":false},"axis":{"offset":12,"tickCount":100,"values":[170,175,180,185,190,195,200,205,210,215,220],"tickSize":{"condition":{"test":"datum.value%10!=0","value":10},"value":20},"labelExpr":"datum.value%10!=0?'':''+datum.value"}}}},
  {"data":{"name":"trend"},"transform":[{"filter":"datum.s=='CH2' && datum.k=='D'"}],"mark":{"type":"line","color":"#000","strokeWidth":2.5,"strokeDash":[9,6]},"encoding":{"y":{"field":"v","type":"quantitative","title":null}}}
 ]},
{"width":468,"height":235,
 "encoding":{"x":{"field":"t","type":"quantitative","scale":{"domain":[2009.5,2021.92],"nice":false,"zero":false},"axis":{"orient":"bottom","offset":19,"tickCount":100,"values":[2009.5,2010.86111,2012.22222,2013.58333,2014.94444,2016.30556,2017.66667,2019.02778,2020.38889,2021.75],"domainWidth":4,"tickWidth":3,"tickSize":{"condition":{"test":"round((datum.value-2009.5)/1.36111)%2==0","value":33},"value":10},"labelExpr":"['Jul-09','Nov-10','Apr-12','Aug-13','Dec-14','May-16','Sep-17','Feb-19','Jun-20','Oct-21'][round((datum.value-2009.5)/1.36111)]","labelFontSize":23,"labelPadding":11,"labelBaseline":"top","title":null}}},
 "layer":[
  {"layer":[
   {"data":{"name":"fiti"},"transform":[{"filter":"datum.s=='CH2'"}],"mark":{"type":"line","interpolate":"step-after","color":"#0000ff","strokeWidth":3.5},"encoding":{"y":{"field":"FI","type":"quantitative","title":null,"scale":{"domain":[-800,0],"nice":false,"zero":false},"axis":{"orient":"left","offset":9,"tickCount":100,"values":[-800,-700,-600,-500,-400,-300,-200,-100,0],"domainColor":"#0000ff","tickColor":"#0000ff","tickSize":{"condition":{"test":"datum.value%200!=0","value":10},"value":19},"labelExpr":"datum.value%200!=0?'':(datum.value<0?'-':'')+abs(datum.value)"}}}},
   {"data":{"name":"trend"},"transform":[{"filter":"datum.s=='CH2' && datum.k=='FI'"}],"mark":{"type":"line","color":"#0000ff","strokeWidth":2.5,"strokeDash":[8,5]},"encoding":{"y":{"field":"v","type":"quantitative","title":null}}}
  ]},
  {"layer":[
   {"data":{"name":"fiti"},"transform":[{"filter":"datum.s=='CH2'"}],"mark":{"type":"line","interpolate":"step-after","color":"#ff6600","strokeWidth":3.5},"encoding":{"y":{"field":"TI","type":"quantitative","title":null,"scale":{"domain":[40,240],"nice":false,"zero":false},"axis":{"orient":"right","offset":9,"tickCount":100,"values":[40,60,80,100,120,140,160,180,200,220,240],"domainColor":"#ff6600","tickColor":"#ff6600","tickSize":{"condition":{"test":"datum.value%40!=0","value":10},"value":19},"labelExpr":"datum.value%40!=0?'':''+datum.value"}}}},
   {"data":{"name":"trend"},"transform":[{"filter":"datum.s=='CH2' && datum.k=='TI'"}],"mark":{"type":"line","color":"#ff6600","strokeWidth":2.5,"strokeDash":[8,5]},"encoding":{"y":{"field":"v","type":"quantitative","title":null}}}
  ]}
 ],
 "resolve":{"scale":{"y":"independent"}}}
]
}
